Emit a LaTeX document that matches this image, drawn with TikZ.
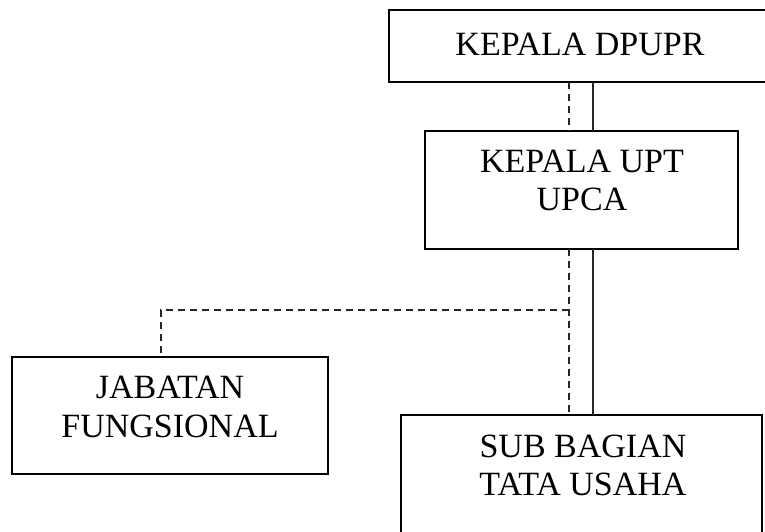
\documentclass[tikz,border=0pt]{standalone}
\usepackage{fontspec}
\setmainfont{Liberation Serif}
\tikzset{
  orgbox/.style={draw=black, line width=1.8pt, inner sep=0pt, outer sep=0pt, anchor=north west},
  orgtext/.style={font=\fontsize{34}{38}\selectfont, align=center, inner sep=0pt, anchor=base},
  solidlink/.style={draw=black!85, line width=1.8pt},
  dashlink/.style={draw=black!85, line width=1.8pt, dash pattern=on 7pt off 5pt},
}
\begin{document}
\begin{tikzpicture}[x=1pt, y=-1pt]
  \useasboundingbox (0,0) rectangle (765,531);
  \clip (0,0) rectangle (765,531);
  % boxes
  \node[orgbox, minimum width=382pt, minimum height=72pt] (dpupr) at (389,10) {};
  \node[orgbox, minimum width=313pt, minimum height=118pt] (upt) at (425,131) {};
  \node[orgbox, minimum width=316pt, minimum height=117pt] (jab) at (12,357) {};
  \node[orgbox, minimum width=361pt, minimum height=140pt] (sub) at (401,415) {};
  % labels
  \node[orgtext] (tdpupr) at (580,55) {KEPALA DPUPR};
  \node[orgtext] (tupt1) at (582,172) {KEPALA UPT};
  \node[orgtext] (tupt2) at (582,210) {UPCA};
  \node[orgtext] (tjab1) at (170,398) {JABATAN};
  \node[orgtext] (tjab2) at (170,437) {FUNGSIONAL};
  \node[orgtext] (tsub1) at (583,457) {SUB BAGIAN};
  \node[orgtext] (tsub2) at (583,495) {TATA USAHA};
  % junction of the dashed branch and its drop point on the left box
  \coordinate (branch) at (569,310);
  \coordinate (jabtop) at (161,357);
  % connectors
  \draw[solidlink] (dpupr.south -| 593,0) -- (upt.north -| 593,0);
  \draw[dashlink] (dpupr.south -| 569,0) -- (upt.north -| 569,0);
  \draw[solidlink] (upt.south -| 593,0) -- (sub.north -| 593,0);
  \draw[dashlink] (upt.south -| 569,0) -- (sub.north -| 569,0);
  \draw[dashlink] (branch) -- (branch -| jabtop) -- (jabtop);
\end{tikzpicture}
\end{document}
